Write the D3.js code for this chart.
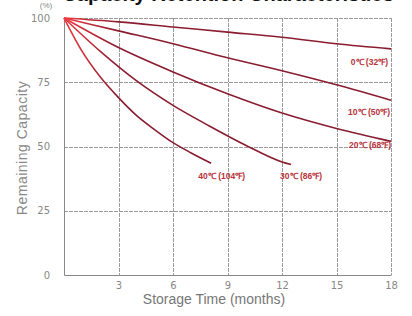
<!DOCTYPE html>
<html>
<head>
<meta charset="utf-8">
<script src="https://cdn.jsdelivr.net/npm/d3@7"></script>
<style>
  body { margin: 0; background: #fff; }
  svg { display: block; font-family: Arial, "Liberation Sans", sans-serif; }
</style>
</head>
<body>
<script>
  // capacity curves
  const months0  = [0, 3, 6, 9, 12, 15, 18];
  const cap0     = [100, 98.5, 96.5, 94.5, 92.5, 90, 88];
  const months10 = [0, 3, 6, 9, 12, 15, 18];
  const cap10    = [100, 95, 90, 84.5, 79.5, 74, 68];
  const months20 = [0, 3, 6, 9, 12, 15, 18];
  const cap20    = [100, 88.5, 79, 70.5, 63, 57, 52];
  const months30 = [0, 2, 4, 6, 8, 10, 12, 12.5];
  const cap30    = [100, 87, 75.5, 66, 58, 50.5, 44, 43];
  const months40 = [0, 1, 2, 3, 4, 5, 6, 7, 8.1];
  const cap40    = [100, 87, 77, 69, 62, 56.5, 51.5, 47.5, 43.5];

  const labels = ['0℃ (32℉)', '10℃ (50℉)', '20℃ (68℉)', '30℃ (86℉)', '40℃ (104℉)'];
  const xTicks = [3, 6, 9, 12, 15, 18];
  const yTicks = [0, 25, 50, 75, 100];

  const width = 412, height = 316;
  const margin = {left: 64, right: 21, top: 18, bottom: 41};

  const svg = d3.select('body').append('svg')
    .attr('width', width)
    .attr('height', height);

  const x = d3.scaleLinear().domain([0, 18]).range([margin.left, width - margin.right]);
  const y = d3.scaleLinear().domain([0, 100]).range([height - margin.bottom, margin.top]);

  // title, cut off at top like the scan
  svg.append('text')
    .attr('x', 228).attr('y', 1)
    .attr('text-anchor', 'middle')
    .attr('font-size', 20).attr('font-weight', 'bold')
    .attr('fill', '#111')
    .text('Capacity Retention Characteristics');

  // grid
  const grid = svg.append('g').attr('stroke', '#9a9a9a').attr('stroke-width', 1)
    .attr('stroke-dasharray', '4,1');
  grid.selectAll('.v').data(xTicks).join('line')
    .attr('x1', d => Math.round(x(d)) + 0.5).attr('x2', d => Math.round(x(d)) + 0.5)
    .attr('y1', y(100)).attr('y2', y(0));
  grid.selectAll('.h').data(yTicks.filter(d => d > 0)).join('line')
    .attr('x1', x(0)).attr('x2', x(18))
    .attr('y1', d => Math.round(y(d)) + 0.5).attr('y2', d => Math.round(y(d)) + 0.5);

  // axes
  const xAxis = svg.append('g')
    .attr('transform', 'translate(0,' + y(0) + ')')
    .call(d3.axisBottom(x).tickValues(xTicks).tickSize(0).tickPadding(7));
  const yAxis = svg.append('g')
    .attr('transform', 'translate(' + x(0) + ',0)')
    .call(d3.axisLeft(y).tickValues(yTicks).tickSize(0).tickPadding(14));
  [xAxis, yAxis].forEach(a => {
    a.select('.domain').attr('stroke', '#888');
    a.selectAll('text').attr('fill', '#888').attr('font-size', 10)
      .attr('font-family', '"DejaVu Sans", sans-serif');
  });

  svg.append('text')
    .attr('x', 46).attr('y', 8)
    .attr('text-anchor', 'middle')
    .attr('font-size', 8).attr('fill', '#888')
    .text('(%)');

  svg.append('text')
    .attr('x', 214).attr('y', 304)
    .attr('text-anchor', 'middle')
    .attr('font-size', 14).attr('fill', '#777')
    .text('Storage Time (months)');

  svg.append('text')
    .attr('transform', 'translate(27,148) rotate(-90)')
    .attr('text-anchor', 'middle')
    .attr('font-size', 14).attr('fill', '#888')
    .attr('letter-spacing', 0.5)
    .text('Remaining Capacity');

  // curves: bright red at origin fading into dark maroon
  const grad = svg.append('defs').append('linearGradient')
    .attr('id', 'curve-grad')
    .attr('gradientUnits', 'userSpaceOnUse')
    .attr('x1', x(0)).attr('x2', x(3)).attr('y1', 0).attr('y2', 0);
  grad.append('stop').attr('offset', '0%').attr('stop-color', '#f03a40');
  grad.append('stop').attr('offset', '100%').attr('stop-color', '#8a1c30');

  const series = [
    [months0, cap0], [months10, cap10], [months20, cap20], [months30, cap30], [months40, cap40]
  ];
  const line = d3.line().x(d => x(d[0])).y(d => y(d[1])).curve(d3.curveMonotoneX);

  svg.append('g').selectAll('path').data(series).join('path')
    .attr('d', s => line(d3.zip(s[0], s[1])))
    .attr('fill', 'none')
    .attr('stroke', 'url(#curve-grad)')
    .attr('stroke-width', 1.6);

  // temperature labels
  const labelPos = [[388, 65], [390, 115], [391, 148], [322, 179], [245, 179]];
  svg.append('g').selectAll('text').data(labels).join('text')
    .attr('x', (d, i) => labelPos[i][0])
    .attr('y', (d, i) => labelPos[i][1])
    .attr('text-anchor', 'end')
    .attr('font-size', 8.5).attr('font-weight', 'bold')
    .attr('fill', '#b8333a')
    .text(d => d);
</script>
</body>
</html>
